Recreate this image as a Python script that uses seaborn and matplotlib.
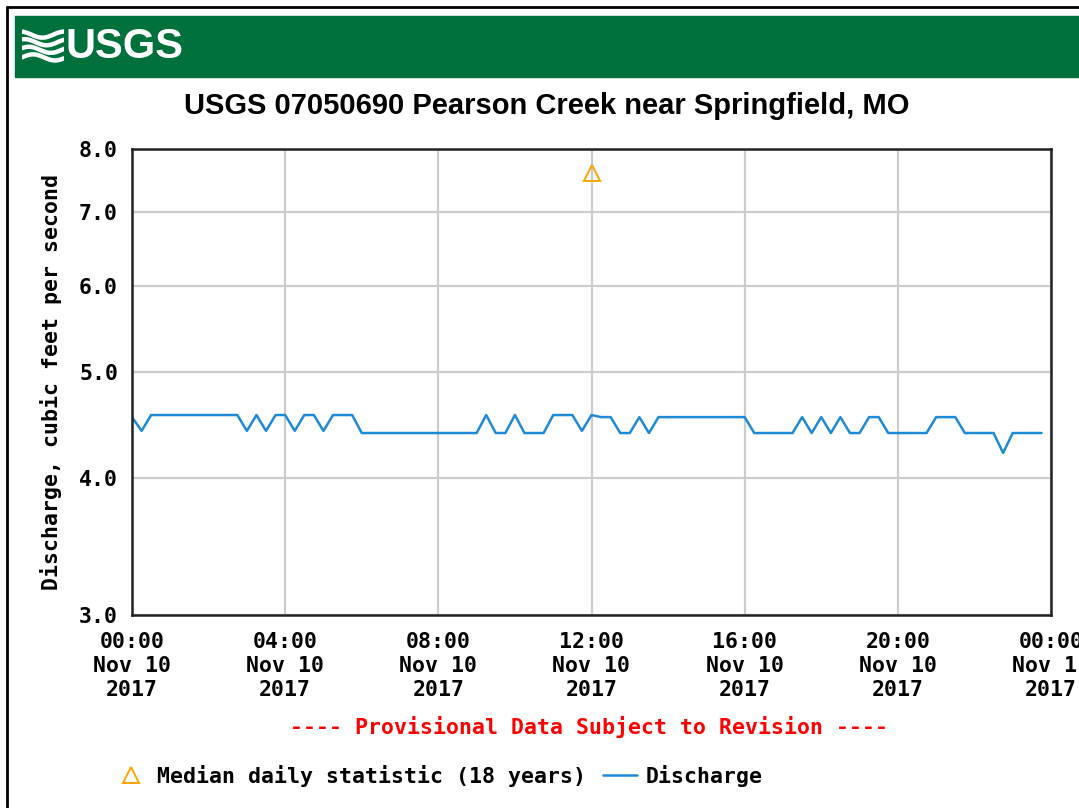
import numpy as np
import pandas as pd
import seaborn as sns
import matplotlib
matplotlib.use("Agg")
from matplotlib import pyplot as plt
import matplotlib.dates as mdates
from matplotlib.lines import Line2D
from matplotlib.patches import Rectangle

# 15-minute discharge values, Nov 10 2017 (cfs)
discharge = [4.55, 4.42, 4.57, 4.57, 4.57, 4.57, 4.57, 4.57, 4.57, 4.57,
             4.57, 4.57, 4.42, 4.57, 4.42, 4.57, 4.57, 4.42, 4.57, 4.57,
             4.42, 4.57, 4.57, 4.57, 4.40, 4.40, 4.40, 4.40, 4.40, 4.40,
             4.40, 4.40, 4.40, 4.40, 4.40, 4.40, 4.40, 4.57, 4.40, 4.40,
             4.57, 4.40, 4.40, 4.40, 4.57, 4.57, 4.57, 4.42, 4.57, 4.55,
             4.55, 4.40, 4.40, 4.55, 4.40, 4.55, 4.55, 4.55, 4.55, 4.55,
             4.55, 4.55, 4.55, 4.55, 4.55, 4.40, 4.40, 4.40, 4.40, 4.40,
             4.55, 4.40, 4.55, 4.40, 4.55, 4.40, 4.40, 4.55, 4.55, 4.40,
             4.40, 4.40, 4.40, 4.40, 4.55, 4.55, 4.55, 4.40, 4.40, 4.40,
             4.40, 4.22, 4.40, 4.40, 4.40, 4.40]
start_time = "2017-11-10 00:00"
median_time = "2017-11-10 12:00"
median_value = 7.6
y_ticks = [3.0, 4.0, 5.0, 6.0, 7.0, 8.0]

times = pd.date_range(start_time, periods=len(discharge), freq="15min")
df = pd.DataFrame({"time": times, "discharge": discharge})

sns.set_theme(style="white")
mono = ["DejaVu Sans Mono"]
narrow = ["Liberation Sans Narrow", "Liberation Sans", "DejaVu Sans"]
fsz = 15.5

W, H = 1079, 808
fig = plt.figure(figsize=(W / 100, H / 100), dpi=100)
fig.patch.set_facecolor("white")

# page border + green banner
fig.add_artist(Line2D([7 / W, 7 / W], [0, 1 - 7 / H], color="black", lw=2, transform=fig.transFigure))
fig.add_artist(Line2D([7 / W, 1], [1 - 7 / H, 1 - 7 / H], color="black", lw=2, transform=fig.transFigure))
fig.add_artist(Rectangle((15 / W, 1 - 77 / H), 1 - 15 / W, 61 / H, color="#00703c",
                         transform=fig.transFigure, zorder=0))
fig.text(66 / W, 1 - 47 / H, "USGS", color="white", fontsize=30, fontweight="bold",
         family=narrow, va="center", ha="left")
logo = fig.add_axes([22 / W, 1 - 65 / H, 42 / W, 38 / H])
logo.set_axis_off()
xx = np.linspace(0, 1, 50)
for k in range(4):
    logo.plot(xx, 0.2 + 0.2 * k + 0.08 * np.sin(xx * 6 + k * 0.6), color="white", lw=3.2)
logo.set_xlim(0, 1)
logo.set_ylim(0, 1)

ax = fig.add_axes([132 / W, 1 - 615 / H, (1051 - 132) / W, (615 - 149) / H])
sns.lineplot(data=df, x="time", y="discharge", ax=ax, color="#1e8ad8", lw=1.8)
ax.plot(pd.Timestamp(median_time), median_value, marker="^", markersize=12,
        mfc="none", mec="#ffa500", mew=1.4, linestyle="none", zorder=5)

ax.set_yscale("log")
ax.set_ylim(3.0, 8.0)
ax.set_yticks(y_ticks)
ax.set_yticklabels([f"{v:.1f}" for v in y_ticks])
ax.yaxis.set_minor_locator(matplotlib.ticker.NullLocator())
ax.set_xlim(pd.Timestamp(start_time), pd.Timestamp(start_time) + pd.Timedelta(hours=24))
ax.xaxis.set_major_locator(mdates.HourLocator(byhour=range(0, 24, 4)))
ax.xaxis.set_major_formatter(mdates.DateFormatter("%H:%M\n%b %d\n%Y"))
ax.grid(True, color="#cccccc", lw=1.6)
ax.set_axisbelow(True)
for s in ax.spines.values():
    s.set_color("#222222")
    s.set_linewidth(1.8)
ax.tick_params(length=0)
ax.tick_params(axis="x", pad=12)
ax.tick_params(axis="y", pad=10)
for lab in ax.get_xticklabels() + ax.get_yticklabels():
    lab.set_family(mono)
    lab.set_fontweight("bold")
    lab.set_fontsize(fsz)
    lab.set_color("black")
for lab in ax.get_xticklabels():
    lab.set_linespacing(1.27)
ax.set_xlabel("")
ax.set_ylabel("Discharge, cubic feet per second", family=mono, fontweight="bold",
              fontsize=fsz, color="black", labelpad=12)

fig.text(547 / W, 1 - 106 / H, "USGS 07050690 Pearson Creek near Springfield, MO",
         family=narrow, fontweight="bold", fontsize=21, color="black", ha="center", va="center")
fig.text(589 / W, 1 - 727 / H, "---- Provisional Data Subject to Revision ----",
         family=mono, fontweight="bold", fontsize=fsz, color="#ff0000", ha="center", va="center")

handles = [Line2D([], [], marker="^", markersize=12, mfc="none", mec="#ffa500", mew=1.4, linestyle="none"),
           Line2D([], [], color="#1e8ad8", lw=1.8)]
leg = fig.legend(handles, ["Median daily statistic (18 years)", "Discharge"],
                 loc="center left", bbox_to_anchor=(105 / W, 1 - 776 / H), ncol=2, frameon=False,
                 prop={"family": mono, "weight": "bold", "size": fsz},
                 handlelength=1.6, handletextpad=0.4, columnspacing=0.8, borderaxespad=0)
for t in leg.get_texts():
    t.set_color("black")

fig.savefig("out.png", dpi=100)
